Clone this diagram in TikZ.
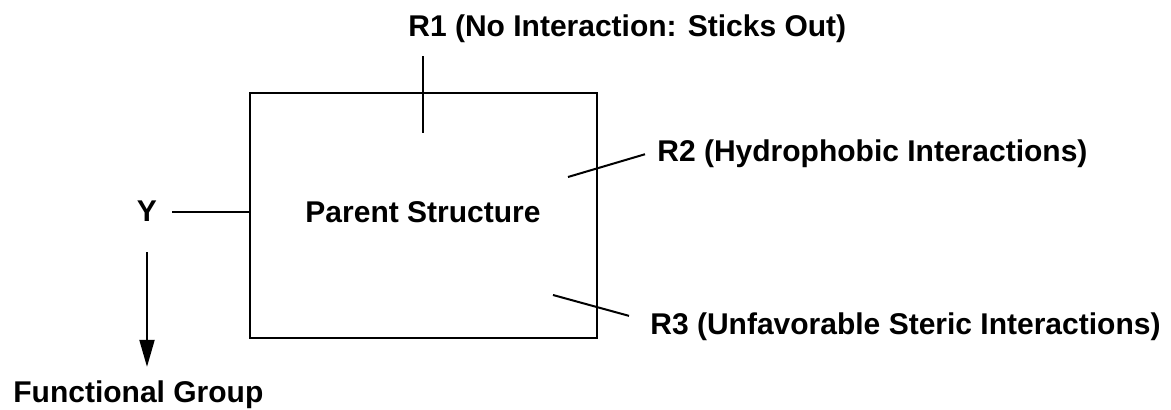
\documentclass[tikz,border=0pt]{standalone}
\usepackage{fontspec}
\setmainfont{Liberation Sans}
\usetikzlibrary{arrows.meta,positioning}

\begin{document}
\begin{tikzpicture}[
  x=0.5pt,y=-0.5pt,
  every node/.style={font=\fontsize{15}{18}\selectfont\bfseries},
  lbl/.style={inner sep=0pt,anchor=base west},
  parentbox/.style={draw,line width=1.1pt,minimum width=173.5pt,minimum height=122.5pt,inner sep=0pt},
  bond/.style={line width=1pt},
  arr/.style={-{Triangle[length=13.5pt,width=7.5pt]},line width=1pt},
]
  \useasboundingbox (0,0) rectangle (1171,410);

  % Parent structure
  \node[parentbox] (box) at (423.5,215.5) {};
  \node[inner sep=0pt,anchor=base] (parent) at (423,223) {Parent Structure};

  % Substituent labels
  \node[lbl] (r1) at (408,37) {R1 (No Interaction: Sticks Out)};
  \node[lbl] (r2) at (657,162) {R2 (Hydrophobic Interactions)};
  \node[lbl] (r3) at (650,335) {R3 (Unfavorable Steric Interactions)};
  \node[inner sep=0pt,anchor=base] (ylab) at (147,222) {Y};
  \node[lbl] (fg) at (13,403) {Functional Group};

  % Inner ends of the bonds
  \coordinate (r1in) at (423,133);
  \coordinate (r2in) at (568,177);
  \coordinate (r3in) at (553,295);

  % Bonds
  \draw[bond] (r1in) -- ([yshift=-6pt]r1in |- r1.south);
  \draw[bond] (r2in) -- ([xshift=-6pt]r2.west);
  \draw[bond] (r3in) -- ([xshift=-10.5pt,yshift=-1.5pt]r3.north west);
  \draw[bond] ([xshift=7.5pt]ylab.east) -- (ylab.east -| box.west);

  % Y becomes the functional group
  \draw[arr] ([yshift=-15pt]ylab.south) -- ([yshift=7pt]ylab.south |- fg.north);
\end{tikzpicture}
\end{document}
